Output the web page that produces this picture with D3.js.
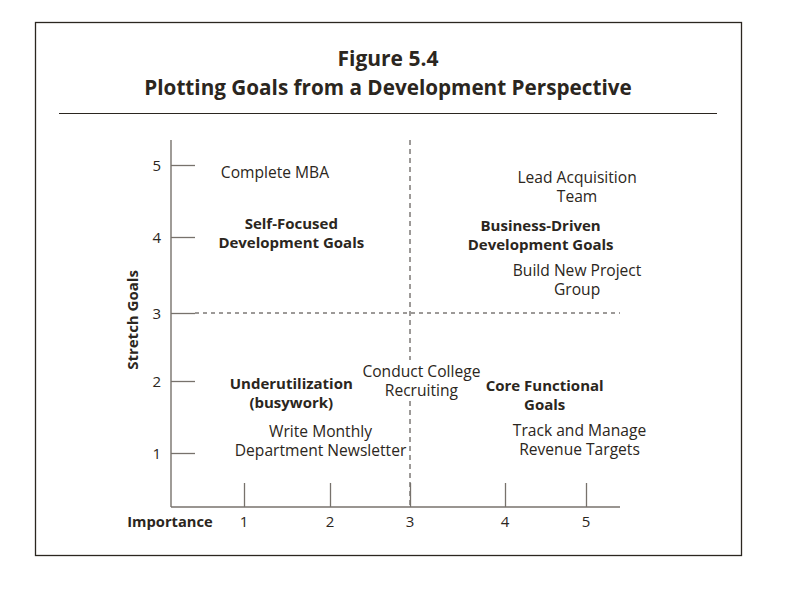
<!DOCTYPE html>
<html>
<head>
<meta charset="utf-8">
<script src="https://cdn.jsdelivr.net/npm/d3@7"></script>
<style>
  body { margin: 0; background: #fff; }
  svg { display: block; font-family: "Open Sans", "Noto Sans", sans-serif; }
</style>
</head>
<body>
<svg id="chart" width="792" height="615"></svg>
<script>
// tick values on both axes
const importanceTicks = [1, 2, 3, 4, 5];
const stretchTicks = [1, 2, 3, 4, 5];

// goals plotted on the grid (importance, stretch)
const goalNames = [
  ["Complete MBA"],
  ["Lead Acquisition", "Team"],
  ["Build New Project", "Group"],
  ["Conduct College", "Recruiting"],
  ["Write Monthly", "Department Newsletter"],
  ["Track and Manage", "Revenue Targets"]
];
const goalImportance = [1.36, 4.89, 4.89, 3.12, 1.89, 4.92];
const goalStretch = [4.89, 4.69, 3.43, 2.00, 1.17, 1.18];

// quadrant names
const quadrantNames = [
  ["Self-Focused", "Development Goals"],
  ["Business-Driven", "Development Goals"],
  ["Underutilization", "(busywork)"],
  ["Core Functional", "Goals"]
];
const quadrantImportance = [1.55, 4.44, 1.55, 4.49];
const quadrantStretch = [4.06, 4.03, 1.83, 1.81];

const ink = "#2b2620";
const axisGrey = "#77726c";

const svg = d3.select("#chart");

// outer frame and title
svg.append("rect")
  .attr("x", 35.5).attr("y", 22.5)
  .attr("width", 706).attr("height", 533)
  .attr("fill", "none").attr("stroke", ink).attr("stroke-width", 1.3);

svg.append("text")
  .attr("x", 388).attr("y", 66)
  .attr("text-anchor", "middle")
  .attr("font-size", 21).attr("font-weight", "bold").attr("fill", ink)
  .text("Figure 5.4");

svg.append("text")
  .attr("x", 388).attr("y", 95)
  .attr("text-anchor", "middle")
  .attr("font-size", 20.7).attr("font-weight", "bold").attr("fill", ink)
  .text("Plotting Goals from a Development Perspective");

svg.append("line")
  .attr("x1", 59).attr("x2", 717)
  .attr("y1", 113.5).attr("y2", 113.5)
  .attr("stroke", ink).attr("stroke-width", 1.2);

// scales (the printed figure spaces its ticks a little unevenly)
const x = d3.scaleLinear().domain(importanceTicks).range([244, 330, 410, 505, 586]);
const y = d3.scaleLinear().domain(stretchTicks).range([453, 381, 313, 237, 165]);

const x0 = 171, xEnd = 620, yTop = 140, y0 = 507, tickLen = 24;

// dashed quadrant dividers
svg.append("line")
  .attr("x1", x0 + tickLen).attr("x2", xEnd)
  .attr("y1", y(3)).attr("y2", y(3))
  .attr("stroke", "#3a3530").attr("stroke-width", 1)
  .attr("stroke-dasharray", "4,4");

svg.append("line")
  .attr("x1", x(3)).attr("x2", x(3))
  .attr("y1", yTop).attr("y2", y0)
  .attr("stroke", "#3a3530").attr("stroke-width", 1)
  .attr("stroke-dasharray", "5,4");

// axes
const yAxis = d3.axisRight(y).tickValues(stretchTicks).tickSize(tickLen).tickFormat("");
const xAxis = d3.axisTop(x).tickValues(importanceTicks).tickSize(tickLen).tickFormat("");

const gy = svg.append("g").attr("transform", `translate(${x0},0)`).call(yAxis);
const gx = svg.append("g").attr("transform", `translate(0,${y0})`).call(xAxis);

[gy, gx].forEach(g => {
  g.select(".domain").remove();
  g.selectAll(".tick line").attr("stroke", axisGrey).attr("stroke-width", 1.3);
});

svg.append("line")
  .attr("x1", x0).attr("x2", x0).attr("y1", yTop).attr("y2", y0)
  .attr("stroke", axisGrey).attr("stroke-width", 1.4);
svg.append("line")
  .attr("x1", x0).attr("x2", xEnd).attr("y1", y0).attr("y2", y0)
  .attr("stroke", axisGrey).attr("stroke-width", 1.4);

// tick labels
svg.selectAll(".ylab")
  .data(stretchTicks)
  .enter().append("text")
  .attr("class", "ylab")
  .attr("x", 161).attr("y", d => y(d) + 5.5)
  .attr("text-anchor", "end")
  .attr("font-size", 15).attr("fill", ink)
  .text(d => d);

svg.selectAll(".xlab")
  .data(importanceTicks)
  .enter().append("text")
  .attr("class", "xlab")
  .attr("x", d => x(d)).attr("y", 527)
  .attr("text-anchor", "middle")
  .attr("font-size", 15).attr("fill", ink)
  .text(d => d);

svg.append("text")
  .attr("x", 170).attr("y", 527)
  .attr("text-anchor", "middle")
  .attr("font-size", 14.7).attr("font-weight", "bold").attr("fill", ink)
  .text("Importance");

svg.append("text")
  .attr("transform", "translate(138,320) rotate(-90)")
  .attr("text-anchor", "middle")
  .attr("font-size", 15).attr("font-weight", "bold").attr("fill", ink)
  .text("Stretch Goals");

// multi-line label helper
function drawLabels(names, xs, ys, bold) {
  const lineH = 19;
  const g = svg.append("g");
  names.forEach((lines, i) => {
    const cx = x(xs[i]);
    const cy = y(ys[i]);
    const top = cy - (lines.length - 1) * lineH / 2 + 5.5;
    const t = g.append("text")
      .attr("text-anchor", "middle")
      .attr("font-size", bold ? 15 : 15.6)
      .attr("font-weight", bold ? "bold" : "normal")
      .attr("fill", ink);
    lines.forEach((line, j) => {
      t.append("tspan").attr("x", cx).attr("y", top + j * lineH).text(line);
    });
    // goals sitting on the divider get a white backing
    if (!bold && Math.abs(xs[i] - 3) < 0.3) {
      const bb = t.node().getBBox();
      g.insert("rect", "text")
        .attr("x", bb.x - 2).attr("y", bb.y)
        .attr("width", bb.width + 4).attr("height", bb.height)
        .attr("fill", "#fff");
    }
  });
}

drawLabels(goalNames, goalImportance, goalStretch, false);
drawLabels(quadrantNames, quadrantImportance, quadrantStretch, true);
</script>
</body>
</html>
